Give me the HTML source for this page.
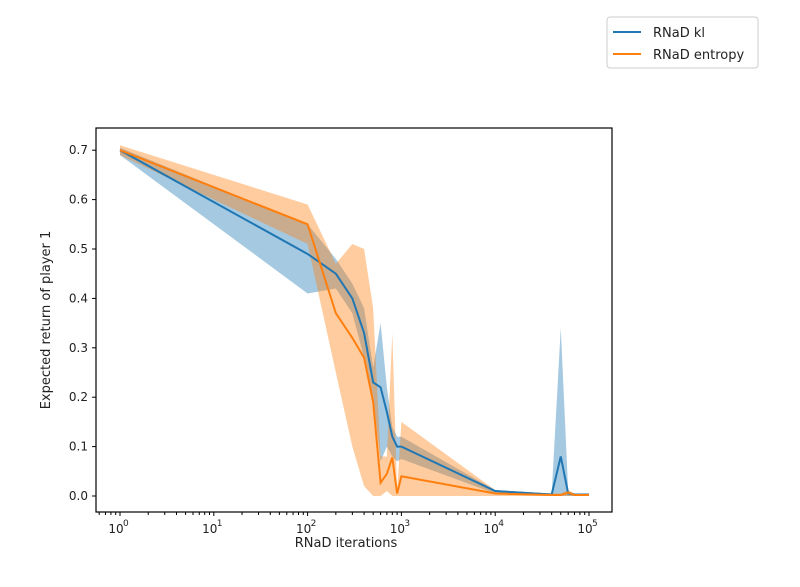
<!DOCTYPE html>
<html><head><meta charset="utf-8"><style>
body{margin:0;background:#fff;font-family:"Liberation Sans","DejaVu Sans",sans-serif}
svg text{font-family:"DejaVu Sans","Liberation Sans",sans-serif;fill:#222}
</style></head><body>
<svg id="chart" width="800" height="582" xmlns="http://www.w3.org/2000/svg">
<g id="bands"></g><g id="lines"></g><g id="axes"></g>
<g>
<rect x="607" y="17" width="151" height="51" rx="3" fill="#fff" stroke="#ccc"/>
<line x1="613" y1="32" x2="641" y2="32" stroke="#1f77b4" stroke-width="2"/>
<text x="653" y="37" font-size="13">RNaD kl</text>
<line x1="613" y1="54" x2="641" y2="54" stroke="#ff7f0e" stroke-width="2"/>
<text x="653" y="59" font-size="13">RNaD entropy</text>
</g>
<text x="346" y="547" font-size="13" text-anchor="middle">RNaD iterations</text>
<text transform="translate(50,320) rotate(-90)" font-size="13" text-anchor="middle">Expected return of player 1</text>
</svg>
<script>
const iters=[1,100,200,300,400,500,600,700,800,900,1000,10000,40000,50000,60000,70000,100000];
const klMean=[0.70,0.49,0.45,0.40,0.33,0.23,0.22,0.17,0.12,0.10,0.10,0.01,0.003,0.08,0.005,0.003,0.003];
const klLo=[0.69,0.41,0.42,0.37,0.28,0.20,0.07,0.10,0.08,0.07,0.075,0.005,0,0,0,0,0];
const klHi=[0.705,0.55,0.48,0.43,0.38,0.26,0.35,0.22,0.14,0.12,0.12,0.012,0.005,0.34,0.01,0.005,0.005];
const enMean=[0.70,0.55,0.37,0.32,0.28,0.19,0.027,0.045,0.078,0.005,0.04,0.005,0.002,0.002,0.007,0.002,0.002];
const enLo=[0.69,0.51,0.25,0.10,0.02,0,0,0.01,0,0,0,0,0,0,0,0,0];
const enHi=[0.71,0.59,0.47,0.51,0.50,0.38,0.08,0.08,0.33,0.01,0.15,0.012,0.005,0.005,0.012,0.005,0.005];
const yTicks=[0,0.1,0.2,0.3,0.4,0.5,0.6,0.7];
const xDecades=[0,1,2,3,4,5];
const L=96,R=612,T=128,B=512;
const X=v=>120+Math.log10(v)*93.8;
const Y=v=>496-v*494;
const NS='http://www.w3.org/2000/svg';
function mk(tag,attrs,parent){const e=document.createElementNS(NS,tag);for(const k in attrs)e.setAttribute(k,attrs[k]);parent.appendChild(e);return e;}
const bands=document.getElementById('bands'),lines=document.getElementById('lines'),axes=document.getElementById('axes');
function band(lo,hi,color,name){
 let d='M'+iters.map((v,i)=>X(v)+','+Y(hi[i])).join('L');
 d+='L'+iters.map((v,i)=>[X(v),Y(lo[i])]).reverse().map(p=>p.join(',')).join('L')+'Z';
 const p=mk('path',{d:d,fill:color,'fill-opacity':0.4,stroke:'none'},bands);
 
 
}
function line(m,color,name){
 const p=mk('polyline',{points:iters.map((v,i)=>X(v)+','+Y(m[i])).join(' '),fill:'none',stroke:color,'stroke-width':2},lines);
 
 
}
band(klLo,klHi,'#1f77b4','kl-band');
band(enLo,enHi,'#ff7f0e','entropy-band');
line(klMean,'#1f77b4','kl-line');
line(enMean,'#ff7f0e','entropy-line');
const fr=mk('rect',{x:L,y:T,width:R-L,height:B-T,fill:'none',stroke:'#000','stroke-width':1.2},axes);


yTicks.forEach(t=>{
 mk('line',{x1:L-4,x2:L,y1:Y(t),y2:Y(t),stroke:'#000'},axes);
 const tx=mk('text',{x:L-8,y:Y(t)+4,'font-size':12,'text-anchor':'end'},axes);
 tx.textContent=t.toFixed(1);
 
 
});
xDecades.forEach(d=>{
 const x=X(Math.pow(10,d));
 mk('line',{x1:x,x2:x,y1:B,y2:B+4,stroke:'#000'},axes);
 const tx=mk('text',{x:x-4,y:B+21,'font-size':12,'text-anchor':'middle'},axes);
 tx.textContent='10';
 
 
 const s=mk('text',{x:x+3,y:B+14,'font-size':9},axes);
 s.textContent=String(d);
 for(let k=2;k<10;k++){const xm=X(k*Math.pow(10,d));if(d<5&&xm<R)mk('line',{x1:xm,x2:xm,y1:B,y2:B+3,stroke:'#000'},axes);}
});
for(let k=2;k<10;k++){const xm=X(k/10);if(xm>L)mk('line',{x1:xm,x2:xm,y1:B,y2:B+3,stroke:'#000'},axes);}
</script>
</body></html>
